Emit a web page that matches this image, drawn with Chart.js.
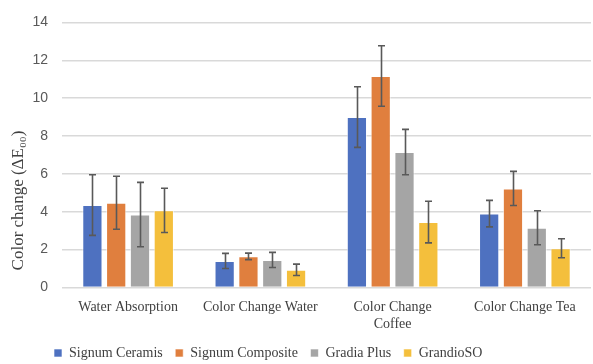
<!DOCTYPE html>
<html>
<head>
<meta charset="utf-8">
<script src="https://cdn.jsdelivr.net/npm/chart.js@4.4.0/dist/chart.umd.min.js"></script>
<style>
  html, body { margin: 0; padding: 0; background: #fff; }
  #wrap { width: 593px; height: 364px; position: relative; }
</style>
</head>
<body>
<div id="wrap"><canvas id="grafico"></canvas></div>
<script>
// Datos del gráfico
const categorias = ['Water Absorption', 'Color Change Water', ['Color Change', 'Coffee'], 'Color Change Tea'];
const series = ['Signum Ceramis', 'Signum Composite', 'Gradia Plus', 'GrandioSO'];
const colores = ['#4e71c0', '#e07f3e', '#a5a5a5', '#f4bf3c'];

const signumCeramis = [4.35, 1.40, 9.0, 3.9];
const signumComposite = [4.47, 1.64, 11.17, 5.23];
const gradiaPlus = [3.85, 1.45, 7.15, 3.15];
const grandioSO = [4.07, 0.93, 3.45, 2.07];

// Desviación (barras de error)
const errCeramis = [1.6, 0.40, 1.6, 0.70];
const errComposite = [1.4, 0.17, 1.6, 0.90];
const errGradia = [1.7, 0.40, 1.2, 0.90];
const errGrandio = [1.17, 0.30, 1.1, 0.50];

const valores = [signumCeramis, signumComposite, gradiaPlus, grandioSO];
const errores = [errCeramis, errComposite, errGradia, errGrandio];

const yTicks = [0, 2, 4, 6, 8, 10, 12, 14];

// Plugin para dibujar las barras de error
const barrasError = {
    id: 'barrasError',
    beforeDraw(chart) {
        // la leyenda empieza más a la izquierda, como en el original
        if (chart.legend) chart.legend.left = 45;
    },
    afterDatasetsDraw(chart) {
        const ctx = chart.ctx;
        const y = chart.scales.y;
        ctx.save();
        ctx.strokeStyle = '#595959';
        ctx.lineWidth = 1.6;
        chart.data.datasets.forEach((ds, i) => {
            const meta = chart.getDatasetMeta(i);
            meta.data.forEach((bar, j) => {
                const v = ds.data[j];
                const e = errores[i][j];
                const top = y.getPixelForValue(v + e);
                const bot = y.getPixelForValue(v - e);
                const x = Math.round(bar.x) + 0.5;
                ctx.beginPath();
                ctx.moveTo(x, top);
                ctx.lineTo(x, bot);
                ctx.moveTo(x - 3.5, top);
                ctx.lineTo(x + 3.5, top);
                ctx.moveTo(x - 3.5, bot);
                ctx.lineTo(x + 3.5, bot);
                ctx.stroke();
            });
        });
        ctx.restore();
    }
};

const ctx = document.getElementById('grafico').getContext('2d');
new Chart(ctx, {
    type: 'bar',
    data: {
        labels: categorias,
        datasets: series.map((nombre, i) => ({
            label: nombre,
            data: valores[i],
            backgroundColor: colores[i],
            borderColor: 'rgba(255,255,255,0.6)',
            borderWidth: 1,
            barPercentage: 0.85,
            categoryPercentage: 0.72
        }))
    },
    options: {
        responsive: true,
        maintainAspectRatio: false,
        animation: false,
        layout: { padding: { left: 3, right: 2, top: 16, bottom: -6 } },
        plugins: {
            tooltip: { enabled: false },
            legend: {
                position: 'bottom',
                align: 'start',
                labels: {
                    boxWidth: 8,
                    boxHeight: 8,
                    padding: 9,
                    color: '#404040',
                    font: { family: 'Liberation Serif', size: 14 },
                    generateLabels: chart =>
                        Chart.defaults.plugins.legend.labels.generateLabels(chart)
                            .map(l => ({ ...l, text: l.text + ' ' }))
                }
            }
        },
        scales: {
            x: {
                grid: { display: false },
                border: { display: false },
                ticks: {
                    color: '#404040',
                    maxRotation: 0,
                    autoSkip: false,
                    padding: 4,
                    font: { family: 'Liberation Serif', size: 14 }
                }
            },
            y: {
                min: 0,
                max: 14,
                afterBuildTicks: axis => { axis.ticks = yTicks.map(v => ({ value: v })); },
                grid: { color: '#d9d9d9', lineWidth: 1.5, drawTicks: false, tickLength: 0 },
                border: { display: false },
                ticks: {
                    color: '#595959',
                    padding: 14,
                    font: { family: 'Liberation Sans', size: 14 }
                },
                title: {
                    display: true,
                    align: 'start',
                    text: '    Color change (ΔE₀₀)',
                    color: '#404040',
                    padding: { top: 5, bottom: -10 },
                    font: { family: 'Liberation Serif', size: 17 }
                }
            }
        }
    },
    plugins: [barrasError]
});
</script>
</body>
</html>
